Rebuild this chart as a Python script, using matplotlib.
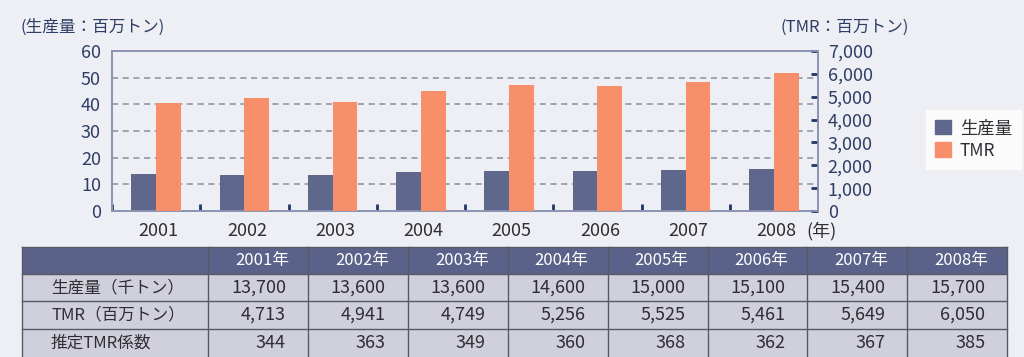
import matplotlib.pyplot as plt
from matplotlib.patches import Patch, Rectangle
import numpy as np

plt.rcParams["font.family"] = ["Noto Sans CJK JP", "DejaVu Sans"]

years = [2001, 2002, 2003, 2004, 2005, 2006, 2007, 2008]
production_kt = [13700, 13600, 13600, 14600, 15000, 15100, 15400, 15700]
tmr_mt = [4713, 4941, 4749, 5256, 5525, 5461, 5649, 6050]
tmr_coef = [344, 363, 349, 360, 368, 362, 367, 385]
row_labels = ["生産量（千トン）", "TMR（百万トン）", "推定TMR係数"]

BG = "#eeeff4"
NAVY = "#2f3e66"
PURPLE = "#5f678c"
ORANGE = "#f7906a"
SPINE = "#8c96b2"
HEADER = "#5b628a"
BODY = "#cfd0dc"
TXT = "#2e2e33"

W, H = 1024, 357
fig = plt.figure(figsize=(W / 100, H / 100), dpi=100, facecolor=BG)

# chart area in pixels: x 112..818, y 51..211
ax = fig.add_axes([112 / W, (H - 211) / H, 706 / W, 160 / H])
ax.set_facecolor("none")
ax2 = ax.twinx()

x = np.arange(len(years))
bw = 0.28
ax.bar(x - bw / 2, np.array(production_kt) / 1000, width=bw, color=PURPLE, zorder=3)
ax2.bar(x + bw / 2, tmr_mt, width=bw, color=ORANGE, zorder=3)

ax.set_xlim(-0.5, len(years) - 0.5)
ax.set_ylim(0, 60)
ax2.set_ylim(0, 7000)
ax.set_yticks(range(0, 61, 10))
ax2.set_yticks(range(0, 7001, 1000))
ax2.set_yticklabels([f"{v:,}" for v in range(0, 7001, 1000)])

for gy in range(10, 60, 10):
    ax.axhline(gy, color="#8a8f9e", lw=1.1, ls=(0, (4, 3)), zorder=1)

for a in (ax, ax2):
    for s in a.spines.values():
        s.set_color(SPINE)
        s.set_linewidth(1.3)

ax.tick_params(axis="y", length=0, pad=8, labelsize=13, labelcolor=NAVY)
ax2.tick_params(axis="y", direction="in", length=5, width=2, color="#1f3566",
                pad=7, labelsize=13, labelcolor=NAVY)

# category labels at centres, tick marks at boundaries
ax.set_xticks(np.arange(-0.5, len(years) - 1, 1.0))
ax.set_xticklabels([])
ax.tick_params(axis="x", direction="in", length=5, width=2, color="#1f3566")
for i, yr in enumerate(years):
    ax.text(i + 0.03, -4.0, str(yr), ha="center", va="top", fontsize=13, color=TXT)
ax.text(7.37, -4.0, "(年)", ha="left", va="top", fontsize=13, color=TXT)

fig.text(20 / W, 1 - 27 / H, "(生産量：百万トン)", ha="left", va="center",
         fontsize=12, color=NAVY)
fig.text(781 / W, 1 - 27 / H, "(TMR：百万トン)", ha="left", va="center",
         fontsize=12, color=NAVY)

handles = [Patch(color=PURPLE), Patch(color=ORANGE)]
leg = fig.legend(handles, ["生産量", "TMR"], loc="upper left",
                 bbox_to_anchor=(917 / W, 1 - 101 / H), frameon=True,
                 fontsize=12.5, handlelength=0.9, handleheight=0.9,
                 handletextpad=0.5, labelspacing=0.25, borderpad=0.55,
                 fancybox=False)
leg.get_frame().set_facecolor("white")
leg.get_frame().set_edgecolor("white")
for t in leg.get_texts():
    t.set_color(TXT)

# table drawn in pixel coordinates
tab = fig.add_axes([0, 0, 1, 1])
tab.set_xlim(0, W)
tab.set_ylim(H, 0)
tab.axis("off")
tab.patch.set_alpha(0)

col_edges = [22, 208] + [208 + 99.9 * (i + 1) for i in range(len(years))]
row_edges = [247, 274, 301, 329, 357]
line_c = "#555a66"

tab.add_patch(Rectangle((col_edges[0], row_edges[0]), col_edges[-1] - col_edges[0],
                        row_edges[1] - row_edges[0], facecolor=HEADER, edgecolor="none"))
tab.add_patch(Rectangle((col_edges[0], row_edges[1]), col_edges[-1] - col_edges[0],
                        row_edges[-1] - row_edges[1], facecolor=BODY, edgecolor="none"))
for cx in col_edges:
    tab.plot([cx, cx], [row_edges[0], row_edges[-1]], color=line_c, lw=1)
for ry in row_edges[:-1]:
    tab.plot([col_edges[0], col_edges[-1]], [ry, ry], color=line_c, lw=1)

for j, yr in enumerate(years):
    cx = (col_edges[j + 1] + col_edges[j + 2]) / 2
    tab.text(cx + 4, (row_edges[0] + row_edges[1]) / 2, f"{yr}年", ha="center",
             va="center", color="white", fontsize=12)

rows = [production_kt, tmr_mt, tmr_coef]
for r, (label, vals) in enumerate(zip(row_labels, rows)):
    cy = (row_edges[r + 1] + row_edges[r + 2]) / 2
    tab.text(51, cy, label, ha="left", va="center", color=TXT, fontsize=12)
    for j, v in enumerate(vals):
        tab.text(col_edges[j + 2] - 22, cy, f"{v:,}", ha="right", va="center",
                 color=TXT, fontsize=13)

fig.savefig("out.png", dpi=100, facecolor=BG)
